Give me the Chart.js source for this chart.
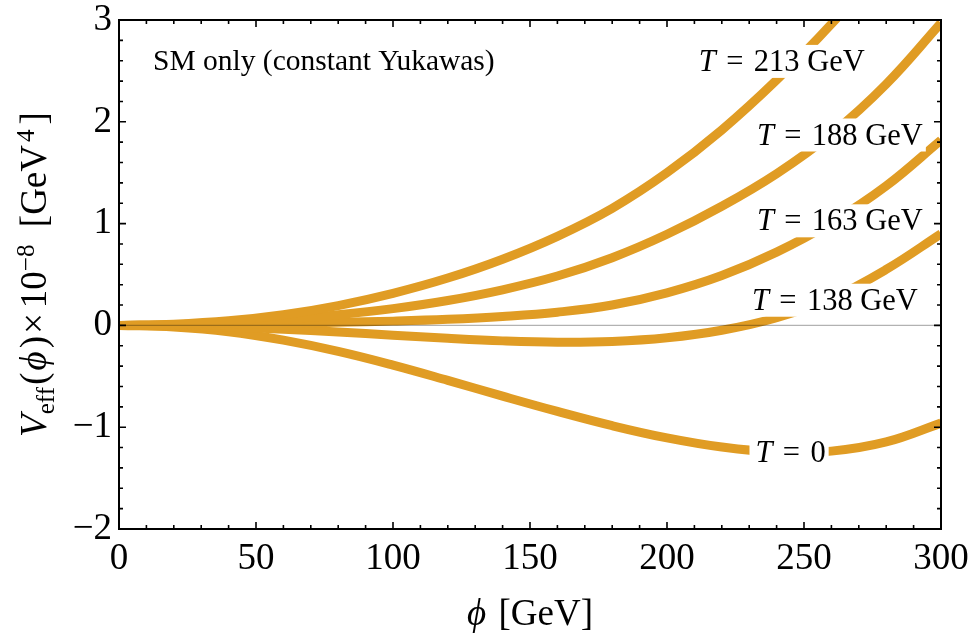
<!DOCTYPE html>
<html><head><meta charset="utf-8">
<script src="https://cdn.jsdelivr.net/npm/chart.js@4"></script>
<style>html,body{margin:0;padding:0;background:#fff;}#wrap{width:972px;height:633px;}</style>
</head><body><div id="wrap"><canvas id="c" width="972" height="633"></canvas></div>
<script>
// ---- data ----
const phi    = [0, 20, 40, 60, 80, 100, 120, 140, 160, 180, 200, 220, 240, 260, 280, 300];
const V_T0   = [0, -0.016, -0.062, -0.145, -0.255, -0.39, -0.54, -0.695, -0.845, -0.985, -1.105, -1.195, -1.245, -1.235, -1.145, -0.96];
const V_T138 = [0, -0.005, -0.017, -0.037, -0.065, -0.096, -0.127, -0.152, -0.165, -0.158, -0.122, -0.048, 0.075, 0.265, 0.55, 0.90];
const V_T163 = [0, 0.003, 0.01, 0.02, 0.03, 0.042, 0.06, 0.088, 0.13, 0.20, 0.32, 0.49, 0.72, 1.01, 1.37, 1.82];
const V_T188 = [0, 0.007, 0.027, 0.06, 0.105, 0.165, 0.245, 0.35, 0.485, 0.665, 0.895, 1.17, 1.49, 1.88, 2.37, 2.97];
const V_T213 = [0, 0.012, 0.045, 0.105, 0.195, 0.315, 0.465, 0.65, 0.875, 1.15, 1.50, 1.92, 2.41, 2.96, 3.58, 4.28];

const xTickValues = [0, 50, 100, 150, 200, 250, 300];
const xTickLabels = ['0', '50', '100', '150', '200', '250', '300'];
const yTickValues = [-2, -1, 0, 1, 2, 3];
const yTickLabels = ['\u22122', '\u22121', '0', '1', '2', '3'];

const curveNames = ['213 GeV', '188 GeV', '163 GeV', '138 GeV', '0'];
const noteText = 'SM only (constant Yukawas)';

// label anchors (data coords: phi at label centre, V at baseline)
const labelAnchors = [
  {phi: 241.9, v: 2.50},
  {phi: 263.1, v: 1.777},
  {phi: 263.1, v: 0.934},
  {phi: 261.3, v: 0.154},
  {phi: 245.1, v: -1.344}
];

const ORANGE = '#E09C24';
const SERIF = '"Liberation Serif", "Times New Roman", serif';

function pts(arr){ return phi.map((x,i)=>({x:x, y:arr[i]})); }
const seriesList = [V_T213, V_T188, V_T163, V_T138, V_T0];

const datasets = seriesList.map((arr,i)=>({
  label: 'T = ' + curveNames[i],
  data: pts(arr),
  borderColor: ORANGE,
  backgroundColor: ORANGE,
  borderWidth: 9,
  pointRadius: 0,
  fill: false,
  tension: 0.4,
  borderCapStyle: 'butt',
  clip: 0
}));

function drawPieces(ctx, pieces, F, x0, baseY){
  let x = x0;
  for (const p of pieces){
    const size = p.sub || p.sup ? F*0.68 : F;
    ctx.font = (p.it ? 'italic ' : '') + size + 'px ' + SERIF;
    let dy = 0;
    if (p.sub) dy = F*0.22;
    if (p.sup) dy = -F*0.32;
    x += (p.pre||0);
    ctx.fillText(p.t, x, baseY + dy);
    x += ctx.measureText(p.t).width + (p.post||0);
  }
  return x - x0;
}
function measurePieces(ctx, pieces, F){
  let w = 0;
  for (const p of pieces){
    const size = p.sub || p.sup ? F*0.68 : F;
    ctx.font = (p.it ? 'italic ' : '') + size + 'px ' + SERIF;
    w += (p.pre||0) + ctx.measureText(p.t).width + (p.post||0);
  }
  return w;
}

const decor = {
  id: 'decor',
  afterDatasetsDraw(chart){
    const ctx = chart.ctx, a = chart.chartArea;
    const xs = chart.scales.x, ys = chart.scales.y;
    ctx.save();
    // zero axis line
    const y0 = ys.getPixelForValue(0);
    ctx.strokeStyle = 'rgba(0,0,0,0.3)';
    ctx.lineWidth = 1.2;
    ctx.beginPath(); ctx.moveTo(a.left, y0); ctx.lineTo(a.right, y0); ctx.stroke();

    // curve labels with white boxes
    const LF = 30.5;
    ctx.textAlign = 'left'; ctx.textBaseline = 'alphabetic';
    labelAnchors.forEach((an, i)=>{
      const cx = xs.getPixelForValue(an.phi), by = ys.getPixelForValue(an.v);
      ctx.font = 'italic ' + LF + 'px ' + SERIF; const wT = ctx.measureText('T').width;
      ctx.font = LF + 'px ' + SERIF; const wEq = ctx.measureText('=').width; const wV = ctx.measureText(curveNames[i]).width;
      const gap = 0.34*LF;
      const total = wT + gap + wEq + gap + wV;
      const x0 = cx - total/2;
      ctx.fillStyle = '#fff';
      ctx.fillRect(x0 - 6, by - 26, total + 9, 33);
      ctx.fillStyle = '#000';
      ctx.font = 'italic ' + LF + 'px ' + SERIF; ctx.fillText('T', x0, by);
      ctx.font = LF + 'px ' + SERIF;
      ctx.fillText('=', x0 + wT + gap, by);
      ctx.fillText(curveNames[i], x0 + wT + gap + wEq + gap, by);
    });

    // note text
    ctx.font = '29.5px ' + SERIF;
    ctx.fillStyle = '#000';
    ctx.fillText(noteText, a.left + 34, a.top + 49.5);

    // frame
    ctx.strokeStyle = '#000';
    ctx.lineWidth = 2;
    ctx.strokeRect(a.left, a.top, a.right - a.left, a.bottom - a.top);

    // ticks (inward, all four sides)
    ctx.lineWidth = 1.6;
    ctx.beginPath();
    for (let v = 0; v <= 300; v += 10){
      const px = xs.getPixelForValue(v);
      const L = (v % 50 === 0) ? 7 : 4;
      ctx.moveTo(px, a.bottom); ctx.lineTo(px, a.bottom - L);
      ctx.moveTo(px, a.top); ctx.lineTo(px, a.top + L);
    }
    for (let k = -10; k <= 15; k++){
      const v = k/5;
      const py = ys.getPixelForValue(v);
      const L = (k % 5 === 0) ? 7 : 4;
      ctx.moveTo(a.left, py); ctx.lineTo(a.left + L, py);
      ctx.moveTo(a.right, py); ctx.lineTo(a.right - L, py);
    }
    ctx.stroke();

    // axis titles
    const F = 37;
    ctx.fillStyle = '#000';
    const xPieces = [{t:'\u03D5', it:true, post:3}, {t:' [GeV]'}];
    const wx = measurePieces(ctx, xPieces, F);
    drawPieces(ctx, xPieces, F, (a.left + a.right)/2 - wx/2, 625);

    const yPieces = [
      {t:'V', it:true}, {t:'eff', sub:true, post:2}, {t:'(', post:2}, {t:'\u03D5', it:true, post:3},
      {t:')', post:2}, {t:'\u00D7', post:5}, {t:'10'}, {t:'\u22128', sup:true, post:8},
      {t:' [GeV', post:3}, {t:'4', sup:true, post:5}, {t:']'}
    ];
    const wy = measurePieces(ctx, yPieces, F);
    ctx.save();
    ctx.translate(46, (a.top + a.bottom)/2);
    ctx.rotate(-Math.PI/2);
    drawPieces(ctx, yPieces, F, -wy/2, 0);
    ctx.restore();

    ctx.restore();
  }
};

new Chart(document.getElementById('c'), {
  type: 'line',
  data: { datasets: datasets },
  options: {
    responsive: false,
    animation: false,
    devicePixelRatio: 1,
    events: [],
    layout: { padding: { top: 20, right: 31, left: 0, bottom: 0 } },
    plugins: { legend: { display: false }, tooltip: { enabled: false } },
    scales: {
      x: {
        type: 'linear', min: 0, max: 300,
        grid: { display: false, drawTicks: false },
        border: { display: false },
        afterBuildTicks(s){ s.ticks = xTickValues.map(v=>({value:v})); },
        afterFit(s){ s.height = 104; s.paddingLeft = 0; s.paddingRight = 0; },
        ticks: {
          autoSkip: false, maxRotation: 0, padding: 12, color: '#000',
          font: { family: SERIF, size: 37, lineHeight: 1 },
          callback(v){ const i = xTickValues.indexOf(v); return i >= 0 ? xTickLabels[i] : ''; }
        }
      },
      y: {
        type: 'linear', min: -2, max: 3,
        grid: { display: false, drawTicks: false },
        border: { display: false },
        afterBuildTicks(s){ s.ticks = yTickValues.map(v=>({value:v})); },
        afterFit(s){ s.width = 119; s.paddingTop = 0; s.paddingBottom = 0; },
        ticks: {
          autoSkip: false, padding: 7, color: '#000',
          font: { family: SERIF, size: 37, lineHeight: 1 },
          callback(v){ const i = yTickValues.indexOf(v); return i >= 0 ? yTickLabels[i] : ''; }
        }
      }
    }
  },
  plugins: [decor]
});
</script>
</body></html>
